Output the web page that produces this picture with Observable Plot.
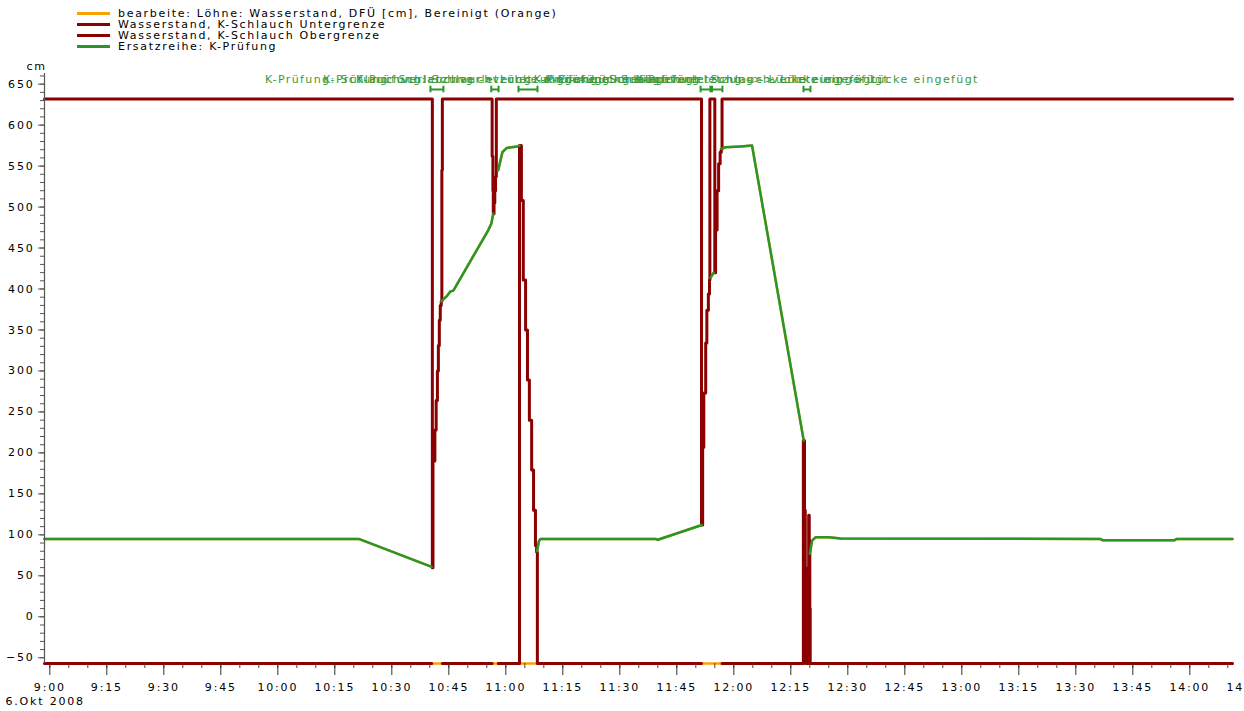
<!DOCTYPE html>
<html><head><meta charset="utf-8">
<script src="https://cdn.jsdelivr.net/npm/d3@7"></script>
<script src="https://cdn.jsdelivr.net/npm/@observablehq/plot@0.6"></script>
<style>
body{margin:0;background:#fff;}
#wrap{position:relative;width:1244px;height:711px;overflow:hidden;}
#legend{position:absolute;left:77px;top:8px;font-family:"DejaVu Sans";font-size:11px;letter-spacing:1.7px;color:#000;}
.row{height:11px;line-height:11px;display:flex;align-items:center;white-space:nowrap;}
.sw{display:inline-block;width:33px;height:3px;margin-right:8px;}
svg text{letter-spacing:1.8px;}
svg g[fill="#3a9a3a"] text{letter-spacing:1.4px;}
</style></head><body><div id="wrap"><div id="legend"></div></div>
<script>
// ---------- data ----------
const seriesNames = [
  "bearbeite: Löhne: Wasserstand, DFÜ [cm], Bereinigt (Orange)",
  "Wasserstand, K-Schlauch Untergrenze",
  "Wasserstand, K-Schlauch Obergrenze",
  "Ersatzreihe: K-Prüfung"
];
const seriesColors = ["#f7a200", "#8b0000", "#8b0000", "#2a962a"];

// Ersatzreihe: K-Prüfung (null = gap)
const ersatzreihe = [
  ["08:58:36", 95], ["10:21:18", 95], ["10:40:30", 61], null,
  ["10:43:00", 385], ["10:44:36", 392], ["10:45:24", 397], ["10:46:12", 398], ["10:55:24", 472], ["10:56:12", 480], ["10:56:42", 492], null,
  ["10:58:00", 545], ["10:58:36", 557], ["10:59:06", 567], ["11:00:12", 572], ["11:03:00", 574], ["11:03:36", 575], null,
  ["11:08:12", 80], ["11:08:42", 92], ["11:09:06", 95], ["11:39:24", 95], ["11:40:00", 94], ["11:51:36", 112], null,
  ["11:53:54", 414], ["11:54:42", 420], null,
  ["11:56:42", 571], ["11:57:48", 573], ["12:01:48", 574], ["12:04:48", 575], ["12:18:24", 215], null,
  ["12:20:00", 77], ["12:20:36", 93], ["12:21:30", 97], ["12:25:00", 97], ["12:28:06", 95.5], ["13:36:30", 95],
  ["13:37:00", 93.5], ["13:56:00", 93.5], ["13:56:30", 95], ["14:11:14", 95]
];
// Bereinigt (orange): equal to the Ersatzreihe outside the gaps, at the bottom inside them
const bereinigtLuecken = [
  ["10:40:30", -57], ["10:43:18", -57], null,
  ["10:56:24", -57], ["10:58:00", -57], null,
  ["11:03:36", -57], ["11:08:18", -57], null,
  ["11:51:30", -57], ["11:56:54", -57], null,
  ["12:18:18", -57], ["12:20:06", -57]
];
// K-Schlauch Untergrenze (step values)
const untergrenze = [
  ["08:58:36", -57], ["10:40:30", -57], null,
  ["10:43:18", -57], ["10:56:24", -57], null,
  ["10:58:00", -57], ["11:03:36", 575], ["11:04:06", 508], ["11:04:36", 411], ["11:05:12", 350], ["11:05:42", 289],
  ["11:06:12", 240], ["11:06:48", 179], ["11:07:18", 130], ["11:07:48", 87], ["11:08:06", 79], ["11:08:18", -57],
  ["11:51:30", -57], null,
  ["11:56:54", -57], ["12:18:18", 215], ["12:18:36", 130], ["12:18:48", 60], ["12:19:00", -57],
  ["12:19:42", 124], ["12:19:51", 93], ["12:20:00", 10], ["12:20:06", -57], ["14:11:14", -57]
];
// K-Schlauch Obergrenze (step values)
const obergrenze = [
  ["08:58:36", 632], ["10:40:40", 60], ["10:40:50", 190], ["10:41:20", 228], ["10:41:40", 264], ["10:42:00", 300],
  ["10:42:15", 331], ["10:42:30", 362], ["10:42:45", 380], ["10:43:00", 385], ["10:43:10", 545], ["10:43:18", 632],
  ["10:56:24", 562], ["10:56:36", 520], ["10:56:42", 492], ["10:56:54", 505], ["10:57:06", 520], ["10:57:18", 537], ["10:57:30", 632],
  ["11:51:30", 112], ["11:51:48", 207], ["11:52:06", 273], ["11:52:36", 334], ["11:52:54", 374], ["11:53:18", 394],
  ["11:53:36", 411], ["11:53:42", 632], ["11:55:00", 420], ["11:55:12", 472], ["11:55:36", 520], ["11:56:00", 553],
  ["11:56:24", 567], ["11:56:42", 571], ["11:56:54", 632], ["14:11:14", 632]
];
// K-Prüfung intervals and their annotation
const pruefStart = ["10:40:10", "10:56:10", "11:03:20", "11:51:15", "11:54:15", "12:18:20"];
const pruefEnde  = ["10:43:35", "10:58:05", "11:08:20", "11:53:50", "11:57:00", "12:20:10"];
const pruefText  = "K-Prüfung: Schlauchverletzung -> Lücke eingefügt";

// axes
const xDomain = ["08:58:36", "14:11:14"];
const xTickLabels = ["9:00","9:15","9:30","9:45","10:00","10:15","10:30","10:45","11:00","11:15","11:30","11:45",
  "12:00","12:15","12:30","12:45","13:00","13:15","13:30","13:45","14:00","14:15"];
const yTickLabels = [-50, 0, 50, 100, 150, 200, 250, 300, 350, 400, 450, 500, 550, 600, 650];
const yDomain = [-57, 663];
const yUnit = "cm";
const dateLabel = "6.Okt 2008";

// ---------- build ----------
const parseT = d3.utcParse("%H:%M:%S");
const parseHM = d3.utcParse("%H:%M");
function toRows(list, segStart = 0) {
  const out = []; let seg = segStart;
  for (const p of list) {
    if (p === null) { seg++; continue; }
    out.push({t: parseT(p[0]), v: p[1], seg});
  }
  return out;
}
const greenRows = toRows(ersatzreihe);
const orangeRows = greenRows.concat(toRows(bereinigtLuecken, 1000));
const lowerRows = toRows(untergrenze);
const upperRows = toRows(obergrenze);
const events = pruefStart.map((s, i) => {
  const a = parseT(s), b = parseT(pruefEnde[i]);
  return {start: a, end: b, mid: new Date((+a + +b) / 2), label: pruefText};
});
const eventEnds = events.flatMap(e => [e.start, e.end]);
const xMajor = xTickLabels.map(parseHM).filter(d => d <= parseT(xDomain[1]));
const xMinor = d3.utcMinute.every(5).range(parseHM("9:00"), parseT(xDomain[1]));
const yMinor = d3.range(-50, 661, 10);

const green = seriesColors[3];
const font = "DejaVu Sans";

const chart = Plot.plot({
  width: 1244, height: 711,
  marginLeft: 44, marginRight: 12, marginTop: 73, marginBottom: 48,
  x: {type: "utc", domain: xDomain.map(parseT)},
  y: {domain: yDomain},
  style: {fontFamily: font, fontSize: "11px", color: "#000", background: "#fff"},
  marks: [
    Plot.line(orangeRows, {x: "t", y: "v", z: "seg", stroke: seriesColors[0], strokeWidth: 2.5}),
    Plot.line(lowerRows, {x: "t", y: "v", z: "seg", curve: "step-after", stroke: seriesColors[1], strokeWidth: 3}),
    Plot.line(upperRows, {x: "t", y: "v", z: "seg", curve: "step-after", stroke: seriesColors[2], strokeWidth: 3}),
    Plot.line(greenRows, {x: "t", y: "v", z: "seg", stroke: green, strokeWidth: 2.5}),
    // K-Prüfung interval markers and labels
    Plot.ruleY(events, {x1: "start", x2: "end", y: () => 643.5, stroke: green, strokeWidth: 2}),
    Plot.ruleX(eventEnds, {x: d => d, y1: () => 639.5, y2: () => 647.5, stroke: green, strokeWidth: 2}),
    Plot.text(events, {x: "mid", y: () => 655.5, text: "label", fill: "#3a9a3a", fontSize: 11}),
    // axes
    Plot.ruleX([parseT(xDomain[0])], {stroke: "#555", strokeWidth: 1.2}),
    Plot.axisY({ticks: yMinor, tickSize: 4, tickFormat: () => "", label: null, stroke: "#555"}),
    Plot.axisY({ticks: yTickLabels, tickSize: 6, tickPadding: 4, label: null, stroke: "#555", fontSize: 11}),
    Plot.axisX({ticks: xMinor, tickSize: 5, tickFormat: () => "", label: null, stroke: "#444"}),
    Plot.axisX({ticks: xMajor, tickSize: 12, tickFormat: () => "", label: null, stroke: "#333"}),
    Plot.text(xTickLabels, {x: d => parseHM(d), text: d => d, frameAnchor: "bottom", dy: 27, fontSize: 11}),
    Plot.text([dateLabel], {text: d => d, frameAnchor: "bottom-left", textAnchor: "start", dx: -39, dy: 41, fontSize: 11}),
    Plot.text([yUnit], {text: d => d, frameAnchor: "top-left", dx: -18, dy: -11, fontSize: 11})
  ]
});
const wrap = document.getElementById("wrap");
wrap.insertBefore(chart, wrap.firstChild);

const legend = document.getElementById("legend");
seriesNames.forEach((name, i) => {
  const row = document.createElement("div");
  row.className = "row";
  const sw = document.createElement("span");
  sw.className = "sw";
  sw.style.background = seriesColors[i];
  row.appendChild(sw);
  row.appendChild(document.createTextNode(name));
  legend.appendChild(row);
});
</script></body></html>
